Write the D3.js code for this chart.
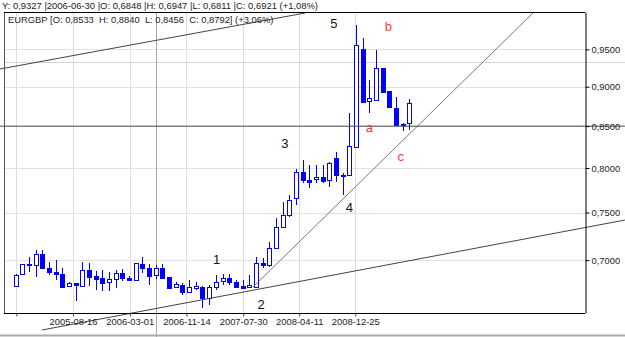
<!DOCTYPE html>
<html>
<head>
<meta charset="utf-8">
<script src="https://cdn.jsdelivr.net/npm/d3@7"></script>
<style>
body { margin: 0; background: #fff; }
svg { display: block; font-family: "Liberation Sans", Arial, sans-serif; }
</style>
</head>
<body>
<script>
// monthly EURGBP candles
var months = ["2004-09","2004-10","2004-11","2004-12",
  "2005-01","2005-02","2005-03","2005-04","2005-05","2005-06","2005-07","2005-08","2005-09","2005-10","2005-11","2005-12",
  "2006-01","2006-02","2006-03","2006-04","2006-05","2006-06","2006-07","2006-08","2006-09","2006-10","2006-11","2006-12",
  "2007-01","2007-02","2007-03","2007-04","2007-05","2007-06","2007-07","2007-08","2007-09","2007-10","2007-11","2007-12",
  "2008-01","2008-02","2008-03","2008-04","2008-05","2008-06","2008-07","2008-08","2008-09","2008-10","2008-11","2008-12",
  "2009-01","2009-02","2009-03","2009-04","2009-05","2009-06","2009-07","2009-08"];

var open = [0.6747,0.6857,0.6961,0.6955,0.7059,0.6917,0.6883,0.6857,0.6739,0.6772,
  0.6747,0.6900,0.6841,0.6818,0.6781,0.6808,0.6875,0.6821,0.6806,0.6966,
  0.6917,0.6848,0.6917,0.6834,0.6730,0.6752,0.6687,0.6728,0.6735,0.6629,
  0.6730,0.6791,0.6818,0.6784,0.6742,0.6730,0.6730,0.6968,0.6950,0.7121,
  0.7347,0.7473,0.7656,0.7957,0.7862,0.7870,0.7899,0.7862,0.8113,0.7919,
  0.7919,0.8243,0.9501,0.8819,0.8828,0.9247,0.8944,0.8730,0.8518,0.8533];

var high = [0.6860,0.6966,0.7035,0.7103,0.7103,0.6981,0.7001,0.6920,0.6781,0.6776,
  0.6986,0.6976,0.6895,0.6900,0.6880,0.6905,0.6907,0.6841,0.6974,0.7028,
  0.6961,0.6947,0.6958,0.6836,0.6784,0.6772,0.6801,0.6784,0.6742,0.6752,
  0.6850,0.6857,0.6860,0.6801,0.6801,0.6850,0.7028,0.7018,0.7189,0.7437,
  0.7618,0.7693,0.7985,0.8093,0.8034,0.8034,0.8034,0.8073,0.8191,0.7942,
  0.8660,0.9842,0.9654,0.9088,0.9492,0.9252,0.8950,0.8863,0.8533,0.8840];

var low = [0.6742,0.6850,0.6883,0.6834,0.6920,0.6850,0.6801,0.6723,0.6732,0.6600,
  0.6737,0.6742,0.6703,0.6694,0.6694,0.6723,0.6794,0.6791,0.6801,0.6867,
  0.6752,0.6811,0.6818,0.6713,0.6723,0.6655,0.6684,0.6703,0.6528,0.6559,
  0.6703,0.6752,0.6752,0.6723,0.6723,0.6723,0.6723,0.6917,0.6934,0.7114,
  0.7333,0.7454,0.7582,0.7824,0.7768,0.7824,0.7828,0.7786,0.7842,0.7693,
  0.7907,0.8235,0.8790,0.8660,0.8823,0.8931,0.8739,0.8502,0.8440,0.8456];

var close = [0.6850,0.6958,0.6955,0.7059,0.6925,0.6880,0.6857,0.6735,0.6769,0.6752,
  0.6900,0.6834,0.6808,0.6774,0.6811,0.6875,0.6824,0.6801,0.6968,0.6917,
  0.6844,0.6921,0.6824,0.6723,0.6762,0.6687,0.6735,0.6742,0.6623,0.6735,
  0.6784,0.6818,0.6784,0.6735,0.6726,0.6752,0.6968,0.6950,0.7121,0.7347,
  0.7473,0.7637,0.7957,0.7862,0.7836,0.7899,0.7854,0.8054,0.7919,0.7907,
  0.8262,0.9561,0.8806,0.8850,0.9243,0.8935,0.8745,0.8518,0.8523,0.8792];

// x ticks sit on bar index positions
var tickIdx = [0.1, 8.6, 17.1, 25.6, 34.1, 42.5, 50.9];
var tickLabels = ["", "2005-08-16", "2006-03-01", "2006-11-14", "2007-07-30", "2008-04-11", "2008-12-25"];
var yTicks = [0.70, 0.75, 0.80, 0.85, 0.90, 0.95];

// drawn lines, in [bar index, price]
var lineA = [[-2.35, 0.9234], [43.36, 1.0014]];
var lineB = [[3.94, 0.6326], [91.32, 0.7419]];
var lineC = [[35.57, 0.6732], [77.53, 1.0014]];
var lineH = [[-2.35, 0.85], [91.32, 0.85]];

var waveText = ["1", "2", "3", "4", "5", "a", "b", "c"];
var waveIdx = [30.13, 36.77, 40.36, 50.0, 47.71, 53.0, 55.85, 57.7];
var waveVal = [0.7011, 0.6568, 0.8291, 0.7557, 0.9866, 0.8486, 0.9818, 0.8132];
var waveRed = [false, false, false, false, false, true, true, true];

var cursorIdx = 21, cursorVal = 0.9327;
var headerTop = "Y: 0,9327 |2006-06-30 |O: 0,6848 |H: 0,6947 |L: 0,6811 |C: 0,6921 (+1,08%)";
var headerSym = "EURGBP [O: 0,8533  H: 0,8840  L: 0,8456  C: 0,8792] (+3,06%)";

var width = 625, height = 337;
var plot = {left: 4, right: 585, top: 12, bottom: 313};

var svg = d3.select("body").append("svg")
    .attr("width", width)
    .attr("height", height);

var x = d3.scaleLinear()
    .domain([0, months.length - 1])
    .range([15.7, 409.3]);

var y = d3.scaleLog()
    .domain([0.6484, 1.0029])
    .range([plot.bottom, plot.top]);

var fmt = function(d) { return d3.format(".4f")(d).replace(".", ","); };

// grid
svg.append("g").selectAll("line").data(yTicks).enter().append("line")
    .attr("x1", plot.left).attr("x2", plot.right)
    .attr("y1", function(d) { return Math.round(y(d)) + 0.5; })
    .attr("y2", function(d) { return Math.round(y(d)) + 0.5; })
    .attr("stroke", "#e2e2e2");

svg.append("g").selectAll("line").data(tickIdx).enter().append("line")
    .attr("x1", function(d) { return Math.round(x(d)) + 0.5; })
    .attr("x2", function(d) { return Math.round(x(d)) + 0.5; })
    .attr("y1", plot.top).attr("y2", plot.bottom)
    .attr("stroke", "#dddddd");

// cursor lines
svg.append("line")
    .attr("x1", plot.left).attr("x2", width)
    .attr("y1", Math.round(y(cursorVal)) + 0.5).attr("y2", Math.round(y(cursorVal)) + 0.5)
    .attr("stroke", "#d4d4d4");
svg.append("line")
    .attr("x1", Math.round(x(cursorIdx)) + 0.5).attr("x2", Math.round(x(cursorIdx)) + 0.5)
    .attr("y1", plot.top).attr("y2", height)
    .attr("stroke", "#a8a8a8");

// candles
var bars = months.map(function(m, i) {
  return {i: i, o: open[i], h: high[i], l: low[i], c: close[i]};
});

var candle = svg.append("g").attr("shape-rendering", "crispEdges")
  .selectAll("g").data(bars).enter().append("g");

candle.append("line")
    .attr("x1", function(d) { return Math.round(x(d.i)) + 0.5; })
    .attr("x2", function(d) { return Math.round(x(d.i)) + 0.5; })
    .attr("y1", function(d) { return Math.round(y(d.h)); })
    .attr("y2", function(d) { return Math.round(y(d.l)); })
    .attr("stroke", "#0000ff");

candle.append("rect")
    .attr("x", function(d) { return Math.round(x(d.i)) - 1.5; })
    .attr("width", 4)
    .attr("y", function(d) { return Math.round(y(Math.max(d.o, d.c))) + 0.5; })
    .attr("height", function(d) {
      return Math.max(1, Math.round(y(Math.min(d.o, d.c))) - Math.round(y(Math.max(d.o, d.c))));
    })
    .attr("fill", function(d) { return d.c >= d.o ? "#fff" : "#0000ff"; })
    .attr("stroke", "#0000ff");

// drawn trend lines
var line = d3.line()
    .x(function(d) { return x(d[0]); })
    .y(function(d) { return y(d[1]); });

svg.append("path").attr("d", line(lineH)).attr("stroke", "#4a4a4a").attr("fill", "none");
svg.append("path").attr("d", line(lineA)).attr("stroke", "#444").attr("fill", "none");
svg.append("path").attr("d", line(lineB)).attr("stroke", "#444").attr("fill", "none");
svg.append("path").attr("d", line(lineC)).attr("stroke", "#555").attr("stroke-width", 0.8).attr("fill", "none");

// frame
svg.append("line").attr("x1", plot.left + 0.5).attr("x2", plot.left + 0.5)
    .attr("y1", plot.top).attr("y2", plot.bottom + 0.5).attr("stroke", "#555");
svg.append("line").attr("x1", plot.left).attr("x2", plot.right)
    .attr("y1", plot.top + 0.5).attr("y2", plot.top + 0.5).attr("stroke", "#000");
svg.append("line").attr("x1", plot.left).attr("x2", plot.right)
    .attr("y1", plot.bottom + 0.5).attr("y2", plot.bottom + 0.5).attr("stroke", "#000");

// axes
var yAxis = svg.append("g")
    .attr("transform", "translate(" + (plot.right + 0.5) + ",0)")
    .call(d3.axisRight(y).tickValues(yTicks).tickFormat(fmt).tickSize(4).tickSizeOuter(0).tickPadding(2));
yAxis.selectAll("text").attr("font-size", "9.4px").attr("fill", "#222").style("font-family", "inherit");
yAxis.select(".domain").attr("stroke", "#000");

var xAxis = svg.append("g")
    .attr("transform", "translate(0," + (plot.bottom + 0.5) + ")")
    .call(d3.axisBottom(x).tickValues(tickIdx)
      .tickFormat(function(d, i) { return tickLabels[i]; })
      .tickSize(3).tickSizeOuter(0).tickPadding(2));
xAxis.select(".domain").remove();
xAxis.selectAll("text").attr("font-size", "9.4px").attr("fill", "#222").style("font-family", "inherit");
xAxis.selectAll(".tick line").attr("stroke", "#444");

// wave labels
svg.append("g").selectAll("text").data(waveText).enter().append("text")
    .attr("x", function(d, i) { return x(waveIdx[i]); })
    .attr("y", function(d, i) { return y(waveVal[i]); })
    .attr("text-anchor", "middle")
    .attr("dominant-baseline", "central")
    .attr("font-size", "13px")
    .attr("fill", function(d, i) { return waveRed[i] ? "#f03c3c" : "#111"; })
    .text(function(d) { return d; });

// header texts
svg.append("text")
    .attr("x", 2).attr("y", 8.5)
    .attr("font-size", "9.4px").attr("fill", "#222")
    .style("white-space", "pre")
    .attr("textLength", 316).attr("lengthAdjust", "spacingAndGlyphs")
    .text(headerTop);
svg.append("text")
    .attr("x", 8).attr("y", 22.5)
    .attr("font-size", "9.4px").attr("fill", "#222")
    .style("white-space", "pre")
    .text(headerSym);

// bottom separator
svg.append("line").attr("x1", 0).attr("x2", width)
    .attr("y1", 335.5).attr("y2", 335.5)
    .attr("stroke", "#aaaaaa").attr("stroke-width", 2);
</script>
</body>
</html>
